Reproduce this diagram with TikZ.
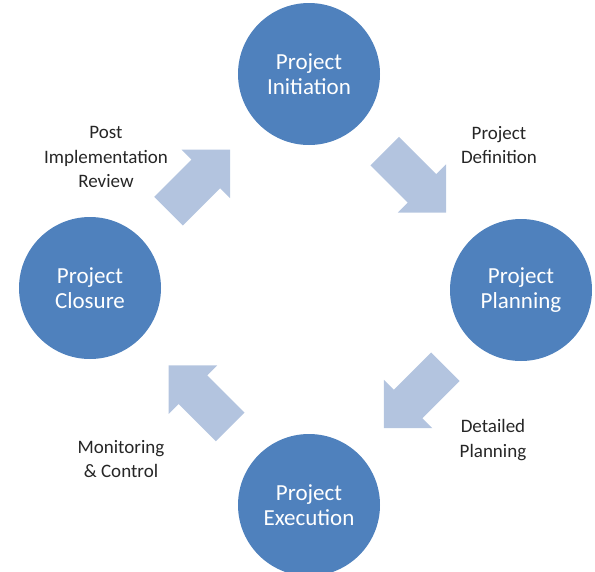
\documentclass[tikz,border=0pt]{standalone}
\usepackage{fontspec}
\setmainfont{Carlito}
\usetikzlibrary{shapes.arrows, calc}

\definecolor{phaseblue}{RGB}{79,129,189}
\definecolor{flowblue}{RGB}{179,196,223}

\tikzset{
  phase/.style={circle, fill=phaseblue, minimum size=142pt, inner sep=0pt,
    text=white, align=center, font=\fontsize{23}{25}\selectfont},
  flow/.style={single arrow, fill=flowblue, minimum height=87pt,
    inner xsep=0pt, inner ysep=20pt, single arrow head extend=14pt, anchor=tail},
  steplabel/.style={align=center, text=black!85, font=\fontsize{19}{24.5}\selectfont}
}

\begin{document}
\begin{tikzpicture}[x=1pt, y=-1pt]
  \useasboundingbox (0,0) rectangle (595,571);

  % Phases
  \node[phase] (init) at (309,74) {Project\\Initiation};
  \node[phase] (plan) at (521,290) {Project\\Planning};
  \node[phase] (exec) at (309,505) {Project\\Execution};
  \node[phase] (clos) at (90,288) {Project\\Closure};

  % Block arrows between phases
  \node[flow, rotate=-45] (initplan) at ($(init)!.5!(plan)!43.5pt!(init)$) {};
  \node[flow, rotate=-135] (planexec) at ($(plan)!.5!(exec)!43.5pt!(plan)$) {};
  \node[flow, rotate=135] (execclos) at ($(exec)!.5!(clos)!43.5pt!(exec)$) {};
  \node[flow, rotate=45] (closinit) at ($(clos)!.5!(init)!43.5pt!(clos)$) {};

  % Labels
  \node[steplabel] (definition) at (499,145) {Project\\Definition};
  \node[steplabel] (detailed) at (493,440) {Detailed\\Planning};
  \node[steplabel] (monitoring) at (121,459) {Monitoring\\\& Control};
  \node[steplabel] (review) at (106,157) {Post\\Implementation\\Review};
\end{tikzpicture}
\end{document}
